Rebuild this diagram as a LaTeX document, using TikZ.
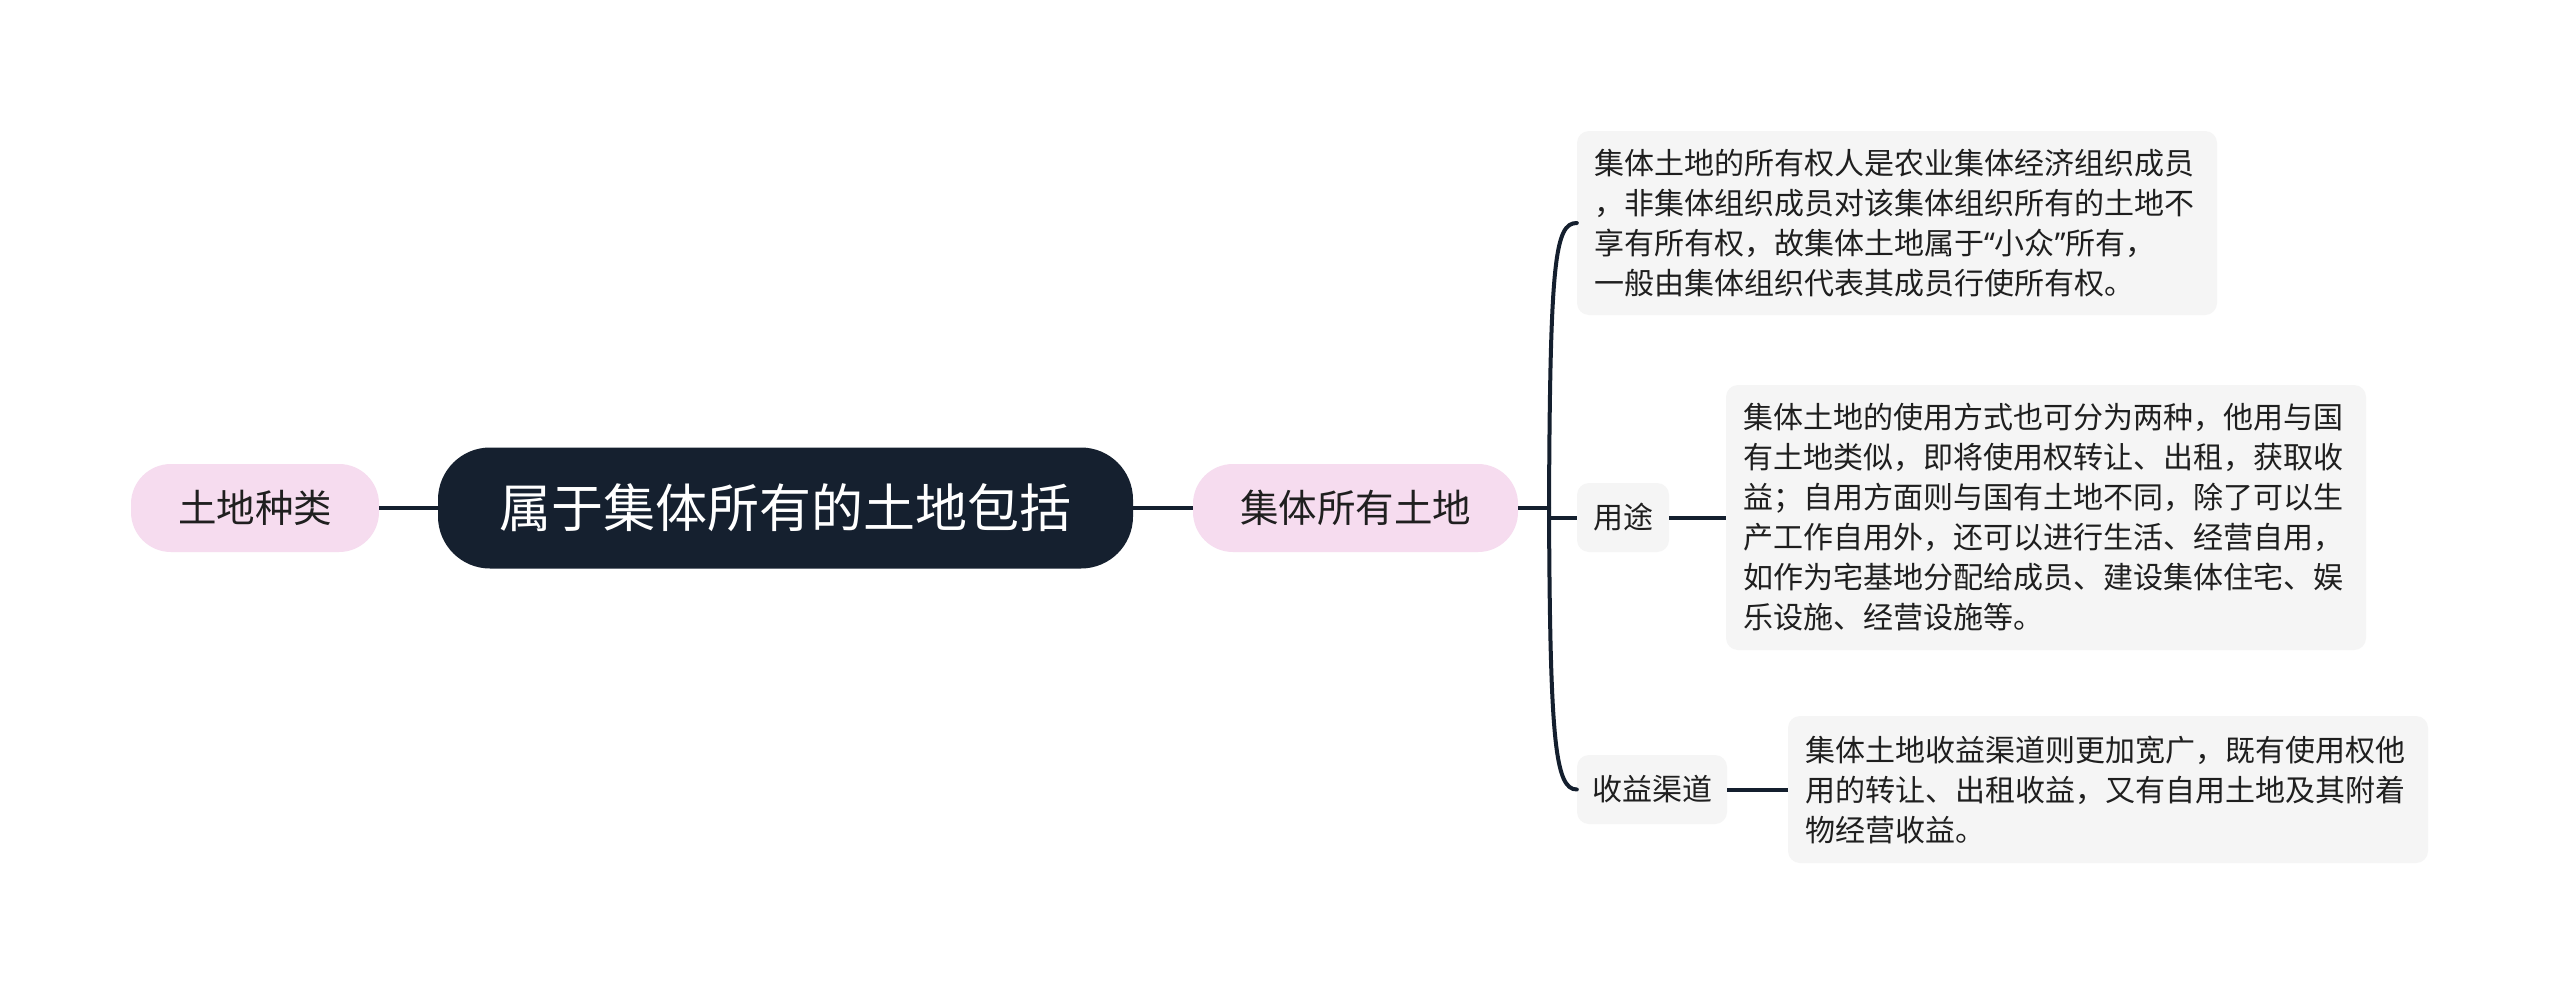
\documentclass[tikz,border=0pt]{standalone}
\usepackage{fontspec}
\setmainfont{Noto Sans CJK SC}
\newfontfamily\latinq{Noto Sans}
\definecolor{linec}{HTML}{141F2E}
\definecolor{rootc}{HTML}{15202F}
\definecolor{pinkc}{HTML}{F6DCEF}
\definecolor{greyc}{HTML}{F5F5F5}
\definecolor{textc}{HTML}{1F1F1F}
\tikzset{
  rootbox/.style={fill=rootc, draw=none, rounded corners=52pt, minimum width=695pt, minimum height=121pt,
    text=white, font=\fontsize{52}{60}\selectfont, inner sep=0pt},
  pinkbox/.style={fill=pinkc, draw=none, rounded corners=40pt, minimum height=88pt,
    text=textc, font=\fontsize{38.5}{46}\selectfont, inner sep=0pt},
  labbox/.style={fill=greyc, draw=none, rounded corners=12pt, minimum height=69pt,
    text=textc, font=\fontsize{30}{40}\selectfont, inner sep=0pt},
  txtbox/.style={fill=greyc, draw=none, rounded corners=12pt, text width=606pt, inner xsep=17pt, inner ysep=0pt,
    align=left, text=textc, font=\fontsize{30}{40}\selectfont},
  conn/.style={draw=linec, line width=4pt}
}
\begin{document}
\begin{tikzpicture}[x=1pt,y=-1pt]
\useasboundingbox (0,0) rectangle (2560,996);
\fill[white] (0,0) rectangle (2560,996);

\node[rootbox] (root) at (785.5,508) {属于集体所有的土地包括};
\node[pinkbox, minimum width=248pt] (kind) at (255,508) {土地种类};
\node[pinkbox, minimum width=325pt] (coll) at (1355.5,508) {集体所有土地};

\node[txtbox, minimum height=184pt] (b1) at (1897,223) {集体土地的所有权人是农业集体经济组织成员\\，非集体组织成员对该集体组织所有的土地不\\享有所有权，故集体土地属于{\latinq “}小众{\latinq ”}所有，\\一般由集体组织代表其成员行使所有权。};
\node[labbox, minimum width=92pt] (use) at (1623,517.5) {用途};
\node[txtbox, minimum height=265pt] (b2) at (2046,517.5) {集体土地的使用方式也可分为两种，他用与国\\有土地类似，即将使用权转让、出租，获取收\\益；自用方面则与国有土地不同，除了可以生\\产工作自用外，还可以进行生活、经营自用，\\如作为宅基地分配给成员、建设集体住宅、娱\\乐设施、经营设施等。};
\node[labbox, minimum width=150pt] (inc) at (1652,789.5) {收益渠道};
\node[txtbox, minimum height=147pt] (b3) at (2108,789.5) {集体土地收益渠道则更加宽广，既有使用权他\\用的转让、出租收益，又有自用土地及其附着\\物经营收益。};

\coordinate (fork) at (1549,508);

\draw[conn] (kind.east) -- (root.west);
\draw[conn] (root.east) -- (coll.west);
\draw[conn] (coll.east) -- (fork);
\draw[conn, line cap=round] (fork) .. controls (1550,260) and (1555,223) .. (b1.west);
\draw[conn] (fork) -- (1549,517.5) -- (use.west);
\draw[conn, line cap=round] (fork) .. controls (1550,740) and (1555,789.5) .. (inc.west);
\draw[conn] (use.east) -- (b2.west);
\draw[conn] (inc.east) -- (b3.west);
\end{tikzpicture}
\end{document}
